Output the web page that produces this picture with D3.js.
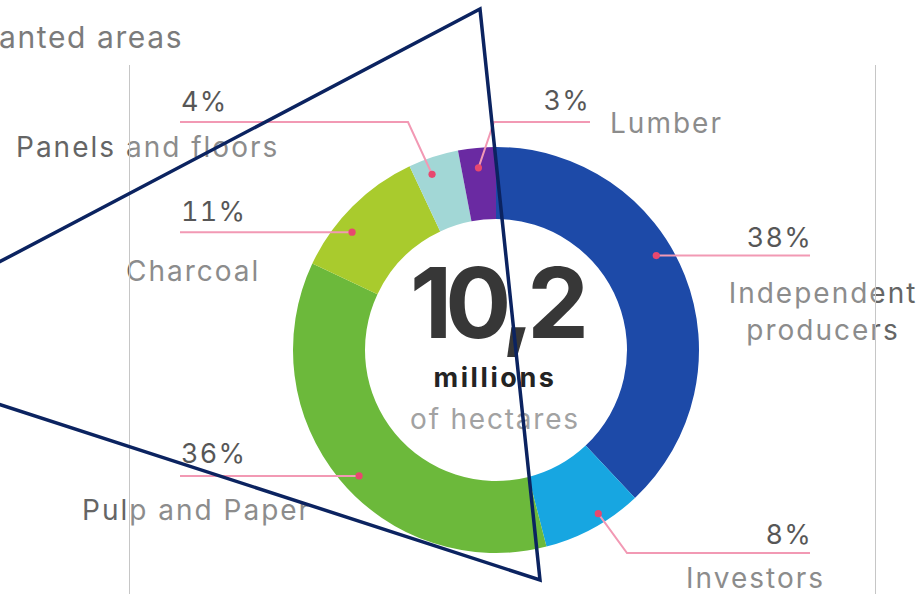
<!DOCTYPE html>
<html>
<head>
<meta charset="utf-8">
<script src="https://cdn.jsdelivr.net/npm/d3@7"></script>
<style>
  html, body { margin: 0; padding: 0; background: #ffffff; }
  svg { display: block; font-family: Inter, "Noto Sans", sans-serif; }
  .pct { font-feature-settings: "tnum"; }
</style>
</head>
<body>
<svg id="chart" width="923" height="594"></svg>
<script>
// ---- data ----
const categories = ["Independent producers", "Investors", "Pulp and Paper", "Charcoal", "Panels and floors", "Lumber"];
const shares = [38, 8, 36, 11, 4, 3];
const shareLabels = ["38%", "8%", "36%", "11%", "4%", "3%"];
const totalValue = "10,2";
const totalUnit = "millions";
const totalSub = "of hectares";
const titleText = "anted areas";

// ---- styles / layout ----
const colors = ["#1d4aa8", "#17a6e1", "#6cb93b", "#a9cb2d", "#a2d7d6", "#6a2aa2"];
const W = 923, H = 594;
const cx = 496, cy = 350, R = 203, r = 131;

const labelLayout = [
  { dotA: 59.5, dotR: 186, elbow: null,       lineEnd: 810, pctX: 812, pctY: 247, pctAnchor: "end",   nameX: 823, nameY: [303, 340], nameAnchor: "middle", wrap: true },
  { dotA: 148,  dotR: 193, elbow: [627, 553], lineEnd: 810, pctX: 812, pctY: 544, pctAnchor: "end",   nameX: 825, nameY: [588],      nameAnchor: "end" },
  { dotA: 227.4,dotR: 186, elbow: null,       lineEnd: 180, pctX: 181, pctY: 463, pctAnchor: "start", nameX: 82,  nameY: [520],      nameAnchor: "start" },
  { dotA: 309.3,dotR: 186, elbow: null,       lineEnd: 180, pctX: 181, pctY: 221, pctAnchor: "start", nameX: 126, nameY: [281],      nameAnchor: "start" },
  { dotA: 340,  dotR: 187, elbow: [408, 122], lineEnd: 180, pctX: 181, pctY: 111, pctAnchor: "start", nameX: 16,  nameY: [157],      nameAnchor: "start" },
  { dotA: 354.5,dotR: 183, elbow: [494, 122], lineEnd: 590, pctX: 590, pctY: 110, pctAnchor: "end",   nameX: 610, nameY: [133],      nameAnchor: "start" }
];

const svg = d3.select("#chart");

// title (outside panel)
svg.append("text").attr("x", -1).attr("y", 48)
  .attr("font-size", 30).attr("letter-spacing", 1.6).attr("fill", "#7b7b7b").text(titleText);

// labels layer (under the lightening panel)
const labelsG = svg.append("g");
categories.forEach((c, i) => {
  const L = labelLayout[i];
  labelsG.append("text").attr("class", "pct").attr("x", L.pctX).attr("y", L.pctY)
    .attr("text-anchor", L.pctAnchor).attr("font-size", 27).attr("letter-spacing", 1.2)
    .attr("fill", "#1c1c1c")
    .text(shareLabels[i]);
  const lines = L.wrap ? c.split(" ") : [c];
  lines.forEach((t, k) => {
    labelsG.append("text").attr("x", L.nameX).attr("y", L.nameY[k])
      .attr("text-anchor", L.nameAnchor).attr("font-size", 28).attr("letter-spacing", 2)
      .attr("fill", "#656565")
      .text(t);
  });
});

// lightening panel with thin borders
const panel = { x0: 130, x1: 876, y0: 65, y1: H };
svg.append("rect").attr("x", panel.x0).attr("y", panel.y0)
  .attr("width", panel.x1 - panel.x0).attr("height", panel.y1 - panel.y0)
  .attr("fill", "#ffffff").attr("fill-opacity", 0.26);
[panel.x0, panel.x1].forEach(x => {
  svg.append("line").attr("x1", x - 0.5).attr("x2", x - 0.5)
    .attr("y1", panel.y0).attr("y2", panel.y1)
    .attr("stroke", "#c6c6c6").attr("stroke-width", 1);
});

// donut
const pie = d3.pie().sort(null).value(d => d)(shares);
const arc = d3.arc().innerRadius(r).outerRadius(R);
const g = svg.append("g").attr("transform", `translate(${cx},${cy})`);
g.selectAll("path.slice").data(pie).join("path")
  .attr("class", "slice").attr("d", arc)
  .attr("fill", (d, i) => colors[i]);

// leader lines and dots
const angScale = d3.scaleLinear().domain([0, 360]).range([0, 2 * Math.PI]);
categories.forEach((c, i) => {
  const L = labelLayout[i];
  const a = angScale(L.dotA);
  const dx = cx + L.dotR * Math.sin(a), dy = cy - L.dotR * Math.cos(a);
  const pts = [[dx, dy]];
  if (L.elbow) { pts.push(L.elbow); pts.push([L.lineEnd, L.elbow[1]]); }
  else pts.push([L.lineEnd, dy]);
  svg.append("path").attr("d", d3.line()(pts))
    .attr("fill", "none").attr("stroke", "#f299b4").attr("stroke-width", 2);
  svg.append("circle").attr("cx", dx).attr("cy", dy).attr("r", 3.6).attr("fill", "#e8486f");
});

// centre text
svg.append("text").attr("x", cx).attr("y", 338).attr("text-anchor", "middle")
  .attr("font-size", 98).attr("font-weight", 700).attr("letter-spacing", -7)
  .attr("fill", "#373737").text(totalValue);
svg.append("text").attr("x", cx - 1).attr("y", 387).attr("text-anchor", "middle")
  .attr("font-size", 27).attr("font-weight", 700).attr("letter-spacing", 2.6)
  .attr("fill", "#232323").text(totalUnit);
svg.append("text").attr("x", cx - 1).attr("y", 429).attr("text-anchor", "middle")
  .attr("font-size", 28).attr("letter-spacing", 1.8).attr("fill", "#a2a2a2").text(totalSub);

// triangle overlay
const tri = [[480, 9], [540, 580], [-168, 350]];
svg.append("path").attr("d", d3.line()(tri) + "Z")
  .attr("fill", "none").attr("stroke", "#0b2360").attr("stroke-width", 3.5)
  .attr("stroke-linejoin", "miter");
</script>
</body>
</html>
